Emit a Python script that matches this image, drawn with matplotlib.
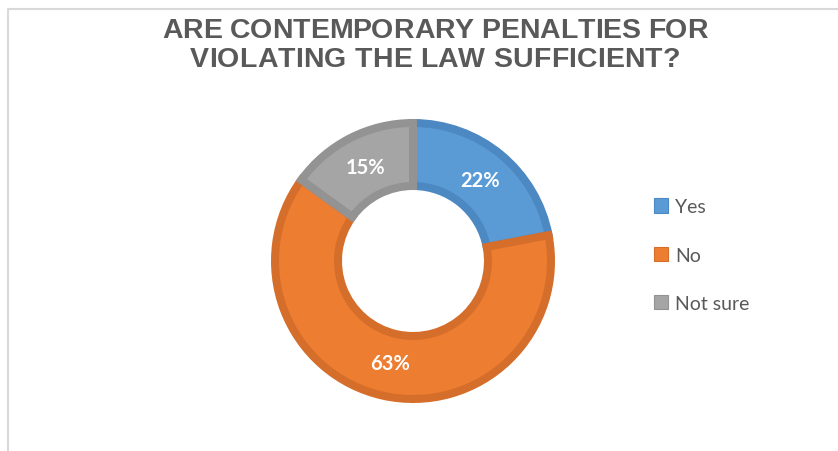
import matplotlib.pyplot as plt
from matplotlib.patches import Patch
from matplotlib.font_manager import FontProperties

labels = ['Yes', 'No', 'Not sure']
shares = [22, 63, 15]
fills = ['#5B9BD5', '#ED7D31', '#A5A5A5']
edges = ['#4C88C2', '#D46E2A', '#939393']

title_lines = ['ARE CONTEMPORARY PENALTIES FOR', 'VIOLATING THE LAW SUFFICIENT?']

W, H = 838, 452
fig = plt.figure(figsize=(W / 100, H / 100), dpi=100)
fig.patch.set_facecolor('white')

# chart-area frame in pixel coordinates (open at bottom/right)
frame = fig.add_axes([0, 0, 1, 1])
frame.set_xlim(0, W)
frame.set_ylim(H, 0)
frame.axis('off')
frame.plot([8, 8, W + 5], [H + 5, 9.5, 9.5], color='#D9D9D9', linewidth=1.5)

# title with a little letter spacing, laid out glyph by glyph
renderer = fig.canvas.get_renderer()
tprop = FontProperties(family='Liberation Sans', weight='bold', size=20.5)


def text_w(s):
    return renderer.get_text_width_height_descent(s, tprop, ismath=False)[0]


title_center = 435
line_widths = [546, 490]
line_y = [31, 60]
for line, width, y in zip(title_lines, line_widths, line_y):
    adv = [text_w(c) if c != ' ' else text_w('a a') - text_w('aa') for c in line]
    track = (width - sum(adv)) / (len(line) - 1)
    x = title_center - width / 2
    for c, a in zip(line, adv):
        frame.text(x, y, c, ha='left', va='center', fontproperties=tprop, color='#595959')
        x += a + track

# donut
cx, cy, r = 413, 262, 142
ax = fig.add_axes([(cx - r) / W, (H - cy - r) / H, 2 * r / W, 2 * r / H])

lw_px = 8
rad = 1 - lw_px / 2 / r
inner = 71 / r + lw_px / 2 / r
wedges, _, pct = ax.pie(shares, radius=rad, startangle=90, counterclock=False,
                        colors=fills, autopct='%.0f%%', pctdistance=105 / (rad * r),
                        wedgeprops=dict(width=rad - inner, linewidth=lw_px * 0.72),
                        textprops=dict(color='white', fontsize=14.5, fontweight='bold',
                                       family='Lato'))
for w, ec in zip(wedges, edges):
    w.set_edgecolor(ec)
    w.set_joinstyle('miter')
ax.set_xlim(-1, 1)
ax.set_ylim(-1, 1)
ax.set_aspect('equal')
ax.axis('off')

handles = [Patch(facecolor=f, edgecolor=e, linewidth=0.8) for f, e in zip(fills, edges)]
fig.legend(handles, labels, loc='center left', bbox_to_anchor=(636 / W, 1 - 256 / H),
           frameon=False, labelcolor='#595959', handlelength=0.75,
           handleheight=0.75, handletextpad=0.35, labelspacing=1.6,
           prop=dict(family='Lato', size=14))

fig.savefig('out.png', dpi=100, facecolor='white')
